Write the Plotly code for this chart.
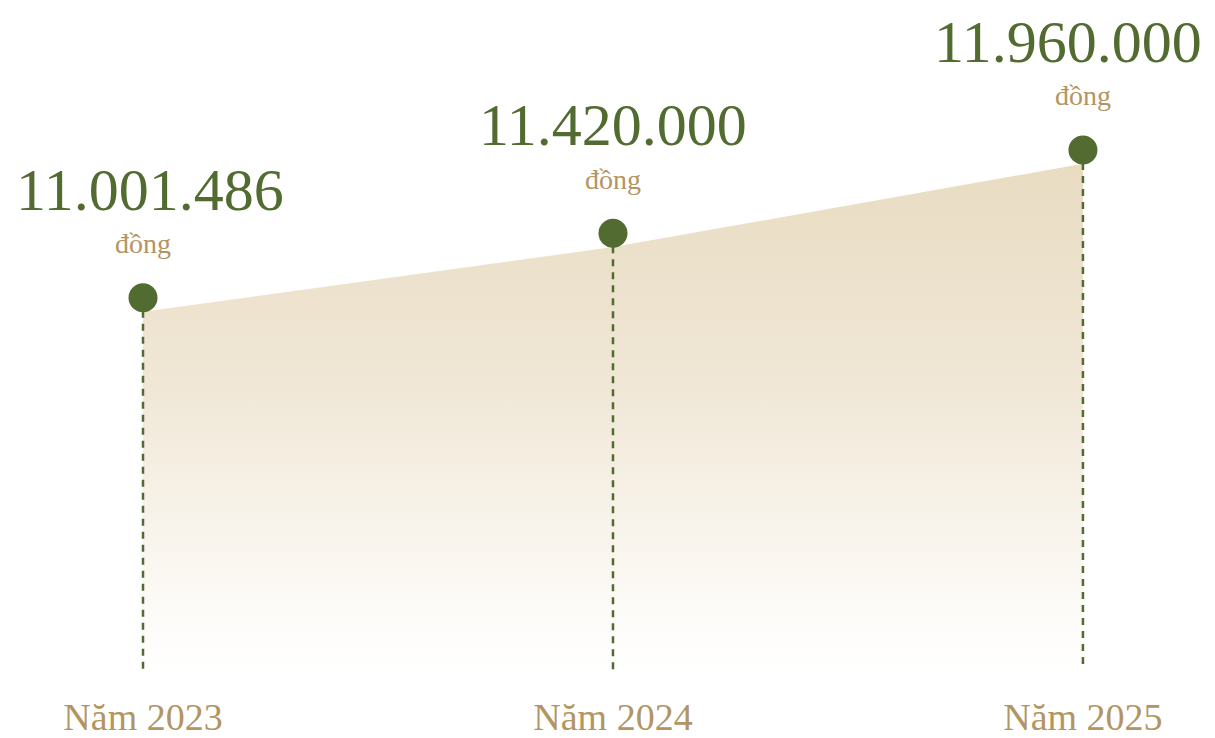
import plotly.graph_objects as go

# Average salary by year (VND)
years = [2023, 2024, 2025]
year_labels = ["Năm 2023", "Năm 2024", "Năm 2025"]
salaries = [11001486, 11420000, 11960000]
value_labels = ["11.001.486", "11.420.000", "11.960.000"]
unit_label = "đồng"

GREEN = "#526b30"
TAN = "#b39463"
FILL_TOP = "#e8dbc1"

W, H = 1215, 738
M_BOTTOM = 63
plot_h = H - M_BOTTOM

# axis ranges
x_range = [2022.6957, 2025.281]
px_per_val = 6433.0
y_top = salaries[0] + 300 * px_per_val
y_bot = salaries[0] - (plot_h - 300) * px_per_val

# the shaded band sits just under the markers
band_offset = 14 * (y_top - y_bot) / plot_h
band = [v - band_offset for v in salaries]

fig = go.Figure()

fig.add_trace(go.Scatter(
    x=years, y=band, mode="lines", line=dict(width=0),
    fill="tozeroy",
    fillgradient=dict(
        type="vertical",
        start=y_bot, stop=salaries[-1],
        colorscale=[[0, "#ffffff"], [0.12, "#fdfbf8"], [0.55, "#f0e7d6"], [1, FILL_TOP]],
    ),
    hoverinfo="skip", showlegend=False,
))

# dashed drop lines
for x, v in zip(years, salaries):
    fig.add_trace(go.Scatter(
        x=[x, x], y=[v, y_bot], mode="lines",
        line=dict(color=GREEN, width=2.5, dash="7px,6px"),
        hoverinfo="skip", showlegend=False,
    ))

fig.add_trace(go.Scatter(
    x=years, y=salaries, mode="markers",
    marker=dict(size=29, color=GREEN),
    showlegend=False,
))

shifts = [7, 0, -15]
for x, v, lab, sh in zip(years, salaries, value_labels, shifts):
    fig.add_annotation(
        x=x, y=v, text=lab, showarrow=False, xshift=sh, yshift=108,
        font=dict(family="Liberation Serif", size=60, color=GREEN),
        xanchor="center", yanchor="middle",
    )
    fig.add_annotation(
        x=x, y=v, text=unit_label, showarrow=False, yshift=54,
        font=dict(family="Liberation Serif", size=28, color=TAN),
        xanchor="center", yanchor="middle",
    )

fig.update_layout(
    width=W, height=H,
    margin=dict(l=0, r=0, t=0, b=M_BOTTOM),
    paper_bgcolor="white", plot_bgcolor="white",
    xaxis=dict(
        range=x_range, tickvals=years, ticktext=year_labels,
        showgrid=False, zeroline=False, showline=False, ticks="",
        ticklabelstandoff=21,
        tickfont=dict(family="Liberation Serif", size=38, color=TAN),
    ),
    yaxis=dict(range=[y_bot, y_top], visible=False, showgrid=False, zeroline=False),
)

fig.write_html("out.html")
